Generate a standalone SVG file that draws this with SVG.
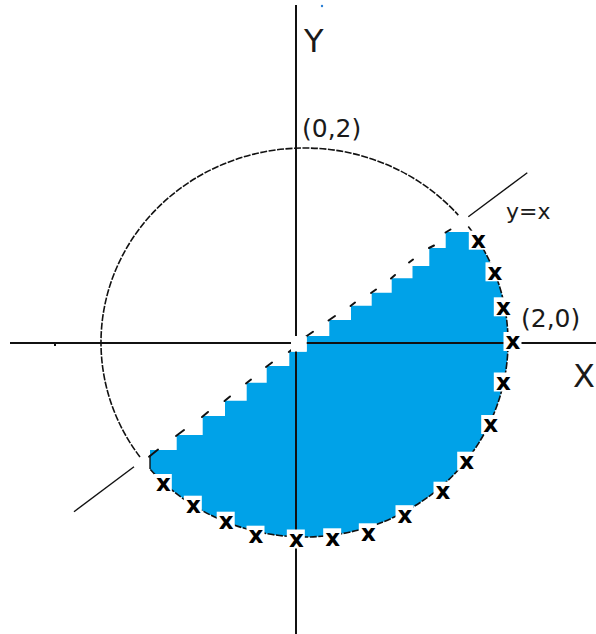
<svg xmlns="http://www.w3.org/2000/svg" width="596" height="634" viewBox="0 0 596 634">
<style>
.axis{stroke:#111;stroke-width:2;fill:none}
.arc{stroke:#111;stroke-width:1.6;fill:none;stroke-dasharray:7 1.5}
.ln{stroke:#111;stroke-width:1.4;fill:none}
.tick{stroke:#111;stroke-width:2;fill:none;stroke-linecap:round}
.lbl{font-family:"DejaVu Sans","Liberation Sans",sans-serif;fill:#1a1a1a}
.mk{font-family:"DejaVu Sans","Liberation Sans",sans-serif;font-weight:bold;font-size:23px;fill:#000;text-anchor:middle}
.box{fill:#fff}
</style>
<defs>
<g id="m"><rect class="box" x="-9.5" y="-11" width="18" height="19"/><text class="mk" x="0" y="6.3">x</text></g>
</defs>
<g id="region">
<path fill="#00A2E8" d="M150 469.1 L150 450 L176.7 450 L176.7 435 L202.7 435 L202.7 416 L225 416 L225 400.7 L246.7 400.7 L246.7 382.7 L266.7 382.7 L266.7 366 L289.3 366 L289.3 351.7 L306.7 351.7 L306.7 336 L329.3 336 L329.3 320 L351 320 L351 305.7 L371.7 305.7 L371.7 292.7 L391.7 292.7 L391.7 278.3 L412.5 278.3 L412.5 266 L429.3 266 L429.3 248 L445.7 248 L445.7 232 L472 232 A203.5 194.5 0 0 1 508 342.5 A203.5 194.5 0 0 1 304.5 537 A203.5 194.5 0 0 1 150 469.1 Z"/>
</g>
<g id="axes">
<line class="axis" x1="10" y1="343" x2="596" y2="343"/>
<line class="axis" x1="296" y1="5" x2="296" y2="634"/>
<rect x="54" y="343" width="2" height="3" fill="#111"/>
<circle cx="322" cy="6" r="1.2" fill="#2a7fd4"/>
</g>
<g id="circle">
<path class="arc" d="M140 457 A203.5 194.5 0 0 1 101 342.5 A203.5 194.5 0 0 1 304.5 148 A203.5 194.5 0 0 1 458.3 215.1"/>
<path class="arc" d="M468.3 226.5 A203.5 194.5 0 0 1 508 342.5 A203.5 194.5 0 0 1 304.5 537 A203.5 194.5 0 0 1 150 469.1"/>
<line class="ln" x1="150" y1="455" x2="150" y2="469"/>
</g>
<g id="line-yx">
<line class="ln" x1="468.3" y1="216.7" x2="527.3" y2="172.7"/>
<line class="ln" x1="74" y1="511.7" x2="134" y2="466.7"/>
<g class="tick">
<path d="M149 456.7 L158 449.5"/>
<path d="M176 436 L184 430"/>
<path d="M202 417 L208 412"/>
<path d="M224.5 401 L230 396.5"/>
<path d="M246 383.5 L251 379.5"/>
<path d="M266 367 L272 362.5"/>
<path d="M288.8 352 L292 349.5"/>
<path d="M306 336.5 L313 331.7"/>
<path d="M328.5 320.5 L335 316"/>
<path d="M350.5 306 L355 302.5"/>
<path d="M371 293 L376 289.5"/>
<path d="M391 278.5 L395 275"/>
<path d="M409 262.5 L413 259.5"/>
<path d="M429 248 L434 245.5"/>
<path d="M445.5 232.5 L450.5 229.5"/>
</g>
</g>
<rect id="origin" x="291" y="336" width="15.7" height="15.5" fill="#fff"/>
<g id="markers">
<use href="#m" x="478.3" y="241.7"/>
<use href="#m" x="495" y="273.3"/>
<use href="#m" x="503.3" y="308.3"/>
<use href="#m" x="513" y="343"/>
<use href="#m" x="503.3" y="383.5"/>
<use href="#m" x="490.7" y="426"/>
<use href="#m" x="466.7" y="462.7"/>
<use href="#m" x="443" y="492.7"/>
<use href="#m" x="405" y="516.2"/>
<use href="#m" x="368.3" y="534.3"/>
<use href="#m" x="332.7" y="539.3"/>
<use href="#m" x="296.3" y="540.5"/>
<use href="#m" x="256" y="536.7"/>
<use href="#m" x="226.2" y="522.7"/>
<use href="#m" x="193.3" y="506.7"/>
<use href="#m" x="163.3" y="485"/>
</g>
<g id="labels">
<text class="lbl" x="304" y="51.5" font-size="32">Y</text>
<text class="lbl" x="302" y="136.5" font-size="25">(0,2)</text>
<text class="lbl" x="506" y="218.5" font-size="22">y=x</text>
<text class="lbl" x="521" y="326.7" font-size="25">(2,0)</text>
<text class="lbl" x="573" y="386.7" font-size="32">X</text>
</g>
</svg>
